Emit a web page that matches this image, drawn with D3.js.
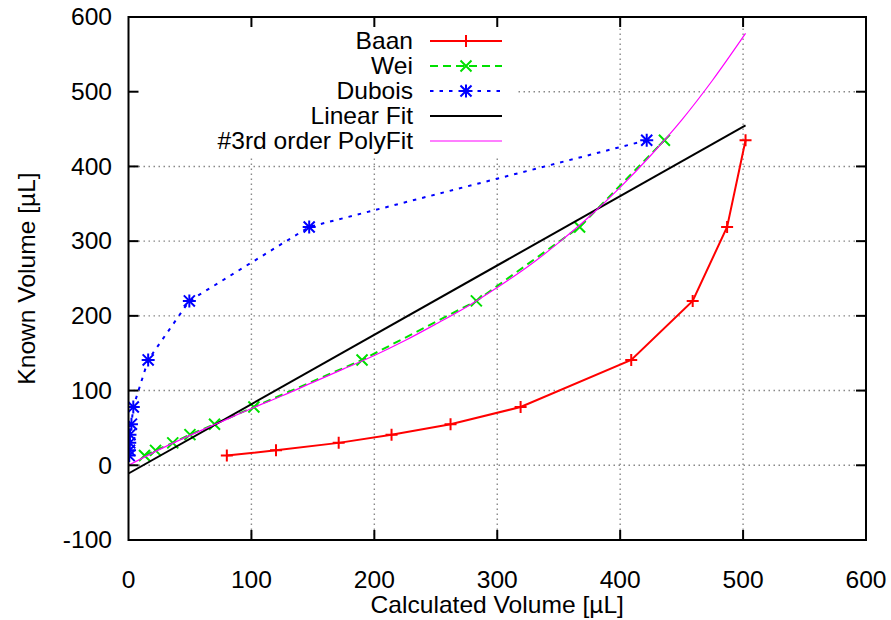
<!DOCTYPE html>
<html><head><meta charset="utf-8">
<script src="https://cdn.jsdelivr.net/npm/d3@7/dist/d3.min.js"></script>
<style>body{margin:0;background:#fff}svg{display:block}</style>
</head><body><svg id="c" width="891" height="620"></svg>
<script>
// ---- data ----
const knownVolume = [13, 20, 30, 41, 55, 78, 141, 220, 319, 435];
const baanX   = [80, 120, 171, 214, 262, 319, 409, 459, 487, 502];
const weiX    = [13, 22, 36, 50, 70, 102, 190, 283, 367, 436];
const duboisX = [0.6, 0.8, 1.0, 1.2, 2.4, 3.9, 16, 49.5, 147, 421.6];
const linearFitX = [0, 502];
const linearFitY = [-11, 455];
const polyFitX = [0, 25, 50, 75, 100, 125, 150, 175, 200, 225, 250, 275, 300, 325, 350, 375, 400, 425, 450, 475, 502];
const polyFitY = [0, 21, 40, 58, 76, 93, 111, 129, 147, 167, 189, 212, 238, 266, 298, 333, 372, 415, 462, 515, 578];
const xTicks = [0, 100, 200, 300, 400, 500, 600];
const yTicks = [-100, 0, 100, 200, 300, 400, 500, 600];
const seriesNames = ["Baan", "Wei", "Dubois", "Linear Fit", "#3rd order PolyFit"];
const xTitle = "Calculated Volume [\u00b5L]";
const yTitle = "Known Volume [\u00b5L]";

// ---- layout ----
const L = 128.5, R = 866, T = 17, B = 540;
const FONT = "'Liberation Sans', Arial, Helvetica, sans-serif";
const FS = 23, SX = 1.07;
const HALF = FS * 0.716 / 2;

const svg = d3.select("#c");
const x = d3.scaleLinear().domain([0, 600]).range([L, R]);
const y = d3.scaleLinear().domain([-100, 600]).range([B, T]);

function txt(g, s, px, py, anchor, rot) {
  return g.append("text")
    .attr("transform", `translate(${px},${py})` + (rot ? ` rotate(${rot})` : "") + ` scale(${SX},1)`)
    .attr("text-anchor", anchor)
    .attr("font-family", FONT).attr("font-size", FS).attr("fill", "#000")
    .text(s);
}

// grid
const grid = svg.append("g").attr("stroke", "#888").attr("stroke-width", 1.4).attr("stroke-dasharray", "1.5,3.5");
xTicks.filter(v => v > 0 && v < 600).forEach(v => grid.append("line").attr("x1", x(v)).attr("x2", x(v)).attr("y1", B).attr("y2", T));
yTicks.filter(v => v > -100 && v < 600).forEach(v => grid.append("line").attr("y1", y(v)).attr("y2", y(v)).attr("x1", L).attr("x2", R));

// legend background (opaque)
svg.append("rect").attr("x", L + 1).attr("y", T + 1).attr("width", 517 - L).attr("height", 155 - T).attr("fill", "#fff");

// series
svg.append("clipPath").attr("id", "clip").append("rect").attr("x", L).attr("y", T).attr("width", R - L).attr("height", B - T);
const plot = svg.append("g").attr("clip-path", "url(#clip)");

const line = d3.line().x(d => x(d[0])).y(d => y(d[1]));
const zip = (a, b) => a.map((v, i) => [v, b[i]]);

function plus(g, cx, cy, s, c) {
  g.append("path").attr("d", `M${cx - s},${cy}H${cx + s}M${cx},${cy - s}V${cy + s}`).attr("stroke", c).attr("stroke-width", 2).attr("fill", "none");
}
function cross(g, cx, cy, s, c) {
  g.append("path").attr("d", `M${cx - s},${cy - s}L${cx + s},${cy + s}M${cx - s},${cy + s}L${cx + s},${cy - s}`).attr("stroke", c).attr("stroke-width", 2).attr("fill", "none");
}
function star(g, cx, cy, s, c) { plus(g, cx, cy, s, c); cross(g, cx, cy, s * 0.85, c); }

const series = [
  { name: seriesNames[0], pts: zip(baanX, knownVolume), color: "#ff0000", dash: null, w: 2, mark: plus, ms: 6 },
  { name: seriesNames[1], pts: zip(weiX, knownVolume), color: "#00e000", dash: "8,5", w: 2, mark: cross, ms: 5.5 },
  { name: seriesNames[2], pts: zip(duboisX, knownVolume), color: "#0000ff", dash: "3.5,6", w: 2, mark: star, ms: 6.5 },
  { name: seriesNames[3], pts: zip(linearFitX, linearFitY), color: "#000000", dash: null, w: 2, mark: null },
  { name: seriesNames[4], pts: zip(polyFitX, polyFitY), color: "#ff00ff", dash: null, w: 1.2, mark: null, curve: true }
];

series.forEach(s => {
  const ln = s.curve ? d3.line().x(d => x(d[0])).y(d => y(d[1])).curve(d3.curveMonotoneX) : line;
  plot.append("path").attr("d", ln(s.pts)).attr("fill", "none").attr("stroke", s.color)
    .attr("stroke-width", s.w).attr("stroke-dasharray", s.dash);
  if (s.mark) s.pts.forEach(p => s.mark(plot, x(p[0]), y(p[1]), s.ms, s.color));
});

// legend entries
const lg = svg.append("g");
series.forEach((s, i) => {
  const ry = 41 + i * 25;
  txt(lg, s.name, 413, ry + HALF, "end");
  lg.append("line").attr("x1", 430).attr("x2", 502).attr("y1", ry).attr("y2", ry)
    .attr("stroke", s.color).attr("stroke-width", s.w).attr("stroke-dasharray", s.dash);
  if (s.mark) s.mark(lg, 466, ry, s.ms, s.color);
});

// border and ticks
const ax = svg.append("g").attr("stroke", "#000").attr("stroke-width", 2);
ax.append("rect").attr("x", L).attr("y", T).attr("width", R - L).attr("height", B - T).attr("fill", "none");
const TL = 10;
xTicks.filter(v => v > 0 && v < 600).forEach(v => {
  ax.append("line").attr("x1", x(v)).attr("x2", x(v)).attr("y1", B).attr("y2", B - TL);
  ax.append("line").attr("x1", x(v)).attr("x2", x(v)).attr("y1", T).attr("y2", T + TL);
});
yTicks.filter(v => v > -100 && v < 600).forEach(v => {
  ax.append("line").attr("y1", y(v)).attr("y2", y(v)).attr("x1", L).attr("x2", L + TL);
  ax.append("line").attr("y1", y(v)).attr("y2", y(v)).attr("x1", R).attr("x2", R - TL);
});

// tick labels
const tl = svg.append("g");
xTicks.forEach(v => txt(tl, String(v), x(v), 580 + HALF, "middle"));
yTicks.forEach(v => txt(tl, String(v), 112, y(v) + HALF, "end"));

// titles
txt(svg, xTitle, (L + R) / 2, 605 + HALF, "middle");
txt(svg, yTitle, 35, (T + B) / 2, "middle", -90);
</script>
</body></html>
